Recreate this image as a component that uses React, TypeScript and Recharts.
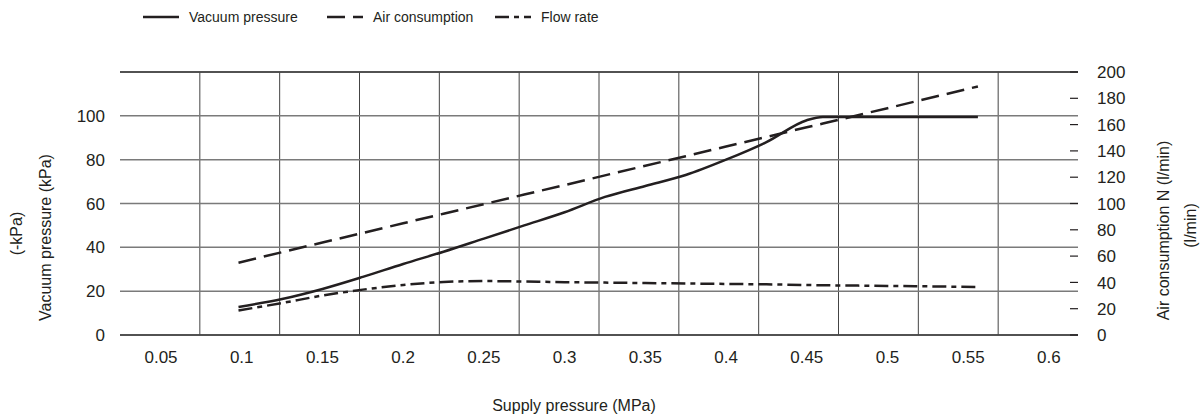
import { LineChart, Line, XAxis, YAxis, CartesianGrid, ReferenceLine, Label } from "recharts";

// supply pressure (MPa) at each reading
const supplyPressure = [0.098, 0.125, 0.15, 0.175, 0.2, 0.225, 0.25, 0.275, 0.3, 0.325, 0.35, 0.375, 0.4, 0.425, 0.45, 0.46, 0.5, 0.556];
// vacuum pressure (-kPa), left axis
const vacuumPressure = [12.8, 16.4, 21, 26.5, 32.4, 38, 44, 50, 56, 63, 68, 73, 80, 88, 98, 99.5, 99.5, 99.5];
// air consumption (l/min), right axis
const airConsumption = [55, 63, 70.3, 77.6, 85, 92.2, 99.5, 106.8, 114, 121.4, 128.7, 136, 143.3, 150.6, 158, 160.8, 172.5, 189];
// flow rate, left axis
const flowRate = [11.2, 14.6, 18, 20.7, 22.8, 24.2, 24.6, 24.4, 24.1, 23.9, 23.7, 23.5, 23.3, 23.1, 22.8, 22.7, 22.4, 21.9];

const xTicks = [0.05, 0.1, 0.15, 0.2, 0.25, 0.3, 0.35, 0.4, 0.45, 0.5, 0.55, 0.6];
const xGridTicks = [0.075, 0.125, 0.175, 0.225, 0.275, 0.325, 0.375, 0.425, 0.475, 0.525, 0.575];
const leftTicks = [0, 20, 40, 60, 80, 100, 120];
const rightTicks = [0, 20, 40, 60, 80, 100, 120, 140, 160, 180, 200];

const data = supplyPressure.map((p, i) => ({
  p,
  vacuum: vacuumPressure[i],
  air: airConsumption[i],
  flow: flowRate[i],
}));

const INK = "#231f20";
const FONT = '"Liberation Sans", Arial, sans-serif';

const series = [
  { key: "vacuum", name: "Vacuum pressure", axis: "left", dash: undefined as string | undefined, type: "monotone" as const },
  { key: "air", name: "Air consumption", axis: "right", dash: "18 8", type: "linear" as const },
  { key: "flow", name: "Flow rate", axis: "left", dash: "14 5 5 5", type: "monotone" as const },
];
const legendLeft = [143, 327, 495];

function RightTick(props: any) {
  const { x, y, payload } = props;
  return (
    <g>
      <line x1={x - 27} x2={x - 19} y1={y} y2={y} stroke={INK} strokeWidth={1.2} />
      <text x={x} y={y} dy="0.36em" textAnchor="start" fontSize={17} fill={INK} fontFamily={FONT}>
        {payload.value}
      </text>
    </g>
  );
}

function LeftTitle(props: any) {
  const { x, y, height } = props.viewBox;
  const cy = y + height / 2;
  return (
    <g fontSize={16} fill={INK} fontFamily={FONT}>
      <text transform={`translate(${x - 15},${cy + 34}) rotate(-90)`} textAnchor="middle" dominantBaseline="central" fill={INK}>
        Vacuum pressure (kPa)
      </text>
      <text transform={`translate(${x - 44},${cy + 30}) rotate(-90)`} textAnchor="middle" dominantBaseline="central" fill={INK}>
        (-kPa)
      </text>
    </g>
  );
}

function RightTitle(props: any) {
  const { x, y, height } = props.viewBox;
  const cy = y + height / 2;
  return (
    <g fontSize={16} fill={INK} fontFamily={FONT}>
      <text transform={`translate(${x + 85},${cy + 27}) rotate(-90)`} textAnchor="middle" dominantBaseline="central" fill={INK}>
        Air consumption N (l/min)
      </text>
      <text transform={`translate(${x + 112},${cy + 22}) rotate(-90)`} textAnchor="middle" dominantBaseline="central" fill={INK}>
        (l/min)
      </text>
    </g>
  );
}

function BottomTitle(props: any) {
  const { x, width } = props.viewBox;
  return (
    <text x={x + width / 2 - 25} y={405} textAnchor="middle" dominantBaseline="central" fontSize={16} fill={INK} fontFamily={FONT}>
      Supply pressure (MPa)
    </text>
  );
}

export default function App() {
  return (
    <div style={{ position: "absolute", left: 0, top: 0, width: 1202, height: 417, background: "#fff", fontFamily: FONT }}>
      <div style={{ position: "absolute", left: 0, top: 0, width: 1202, height: 34 }}>
        {series.map((s, i) => (
          <div key={s.key} style={{ position: "absolute", left: legendLeft[i], top: 8, height: 18, display: "flex", alignItems: "center" }}>
            <svg width={36} height={18}>
              <line x1={0} x2={36} y1={9} y2={9} stroke={INK} strokeWidth={2.5} strokeDasharray={s.dash} />
            </svg>
            <span style={{ marginLeft: 10, fontSize: 14, color: INK }}>{s.name}</span>
          </div>
        ))}
      </div>
      <LineChart width={1202} height={417} data={data} margin={{ top: 72, right: 64, bottom: 52, left: 60 }}>
        <XAxis
          xAxisId="main"
          dataKey="p"
          type="number"
          domain={[0.0246, 0.618]}
          ticks={xTicks}
          allowDataOverflow
          height={30}
          tickLine={false}
          tickSize={0}
          tickMargin={16}
          axisLine={{ stroke: "#3a3a3a", strokeWidth: 1.5 }}
          tick={{ fontSize: 17, fill: INK, fontFamily: FONT }}
        >
          <Label content={BottomTitle} />
        </XAxis>
        <XAxis xAxisId="grid" dataKey="p" type="number" domain={[0.025, 0.625]} ticks={xGridTicks} height={0} hide />
        <YAxis
          yAxisId="left"
          domain={[0, 120]}
          ticks={leftTicks}
          width={60}
          axisLine={false}
          tickLine={false}
          tickSize={0}
          tickMargin={15}
          tick={{ fontSize: 17, fill: INK, fontFamily: FONT }}
          tickFormatter={(v: number) => (v === 120 ? "" : String(v))}
        >
          <Label content={LeftTitle} />
        </YAxis>
        <YAxis
          yAxisId="right"
          orientation="right"
          domain={[0, 200]}
          ticks={rightTicks}
          width={60}
          axisLine={false}
          tickLine={false}
          tickSize={0}
          tickMargin={19}
          tick={<RightTick />}
        >
          <Label content={RightTitle} />
        </YAxis>
        <CartesianGrid xAxisId="grid" yAxisId="left" horizontal={false} syncWithTicks stroke="#444" strokeWidth={1} />
        <CartesianGrid xAxisId="grid" yAxisId="left" vertical={false} syncWithTicks stroke="#7a7a7a" strokeWidth={1.5} />
        <ReferenceLine xAxisId="main" yAxisId="left" y={120} stroke="#3a3a3a" strokeWidth={1.5} />
        {series.map((s) => (
          <Line
            key={s.key}
            xAxisId="main"
            yAxisId={s.axis}
            dataKey={s.key}
            name={s.name}
            type={s.type}
            stroke={INK}
            strokeWidth={2.5}
            strokeDasharray={s.dash}
            dot={false}
            activeDot={false}
            isAnimationActive={false}
          />
        ))}
      </LineChart>
    </div>
  );
}
